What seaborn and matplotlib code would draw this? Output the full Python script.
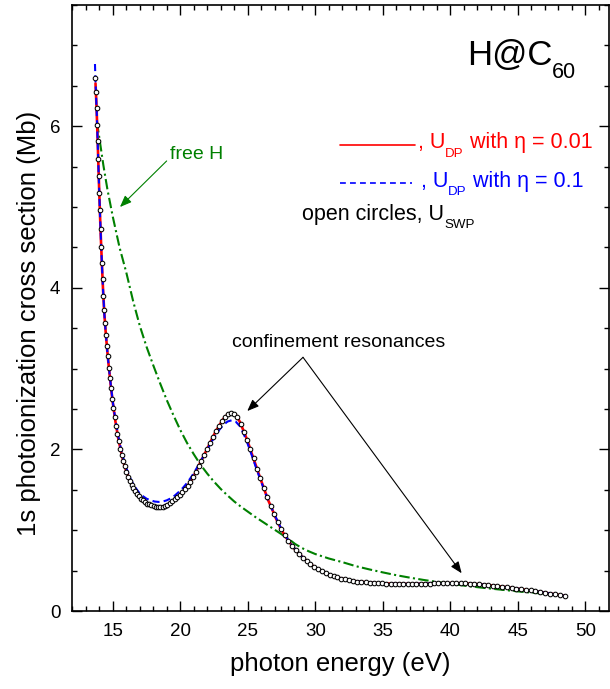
import numpy as np
import matplotlib
matplotlib.use("Agg")
import matplotlib.pyplot as plt
from matplotlib.ticker import MultipleLocator
from matplotlib.transforms import offset_copy
from matplotlib.lines import Line2D
import seaborn as sns

# %% data (energy in eV, cross section in Mb)

# open circles, U_SWP
energy_swp = [13.70, 13.75, 13.80, 13.84, 13.88, 13.92, 13.96, 14.00, 14.04, 14.09,
              14.14, 14.19, 14.24, 14.30, 14.36, 14.42, 14.49, 14.56, 14.63, 14.71,
              14.79, 14.87, 14.96, 15.05, 15.14, 15.24, 15.34, 15.44, 15.55, 15.66,
              15.77, 15.89, 16.01, 16.13, 16.26, 16.39, 16.52, 16.66, 16.80, 16.94,
              17.09, 17.24, 17.39, 17.54, 17.70, 17.86, 18.02, 18.18, 18.35, 18.52,
              18.69, 18.86, 19.04, 19.22, 19.40, 19.58, 19.77, 19.96, 20.15, 20.34,
              20.54, 20.74, 20.94, 21.14, 21.35, 21.56, 21.77, 21.98, 22.20, 22.42,
              22.64, 22.86, 23.08, 23.31, 23.54, 23.77, 24.00, 24.23, 24.47, 24.71,
              24.95, 25.19, 25.43, 25.68, 25.93, 26.18, 26.43, 26.69, 26.95, 27.21,
              27.47, 27.73, 28.00, 28.27, 28.54, 28.81, 29.08, 29.36, 29.64, 29.92,
              30.20, 30.48, 30.77, 31.06, 31.35, 31.64, 31.93, 32.22, 32.52, 32.82,
              33.12, 33.42, 33.72, 34.03, 34.34, 34.65, 34.96, 35.27, 35.58, 35.89,
              36.21, 36.53, 36.85, 37.17, 37.49, 37.81, 38.13, 38.46, 38.79, 39.12,
              39.45, 39.78, 40.11, 40.44, 40.77, 41.11, 41.45, 41.79, 42.13, 42.47,
              42.81, 43.15, 43.49, 43.84, 44.19, 44.54, 44.89, 45.24, 45.59, 45.94,
              46.30, 46.66, 47.02, 47.38, 47.74, 48.10, 48.50]
sigma_swp = [6.60, 6.42, 6.22, 6.02, 5.82, 5.60, 5.38, 5.17, 4.96, 4.73,
             4.51, 4.31, 4.11, 3.90, 3.72, 3.56, 3.42, 3.28, 3.15, 3.01,
             2.88, 2.76, 2.63, 2.51, 2.40, 2.29, 2.19, 2.10, 2.01, 1.93,
             1.86, 1.79, 1.72, 1.66, 1.61, 1.56, 1.52, 1.48, 1.45, 1.42,
             1.39, 1.37, 1.35, 1.33, 1.32, 1.31, 1.30, 1.29, 1.285, 1.285,
             1.29, 1.30, 1.315, 1.335, 1.36, 1.385, 1.41, 1.44, 1.47, 1.505,
             1.55, 1.60, 1.655, 1.72, 1.79, 1.86, 1.93, 2.00, 2.08, 2.155,
             2.23, 2.29, 2.35, 2.40, 2.435, 2.45, 2.44, 2.40, 2.32, 2.22,
             2.12, 2.01, 1.89, 1.76, 1.64, 1.525, 1.41, 1.30, 1.20, 1.10,
             1.01, 0.935, 0.87, 0.81, 0.755, 0.705, 0.66, 0.62, 0.58, 0.545,
             0.515, 0.49, 0.465, 0.445, 0.43, 0.415, 0.40, 0.39, 0.38, 0.372,
             0.365, 0.36, 0.355, 0.35, 0.347, 0.344, 0.342, 0.34, 0.338, 0.337,
             0.336, 0.335, 0.335, 0.335, 0.336, 0.337, 0.338, 0.34, 0.342, 0.343,
             0.344, 0.345, 0.345, 0.345, 0.344, 0.342, 0.339, 0.335, 0.331, 0.326,
             0.32, 0.314, 0.308, 0.301, 0.294, 0.286, 0.278, 0.27, 0.262, 0.254,
             0.245, 0.235, 0.226, 0.216, 0.207, 0.197, 0.186]

# U_DP curves (eta = 0.01 starts at the second energy)
energy_dp = [13.68, 13.72, 13.76, 13.80, 13.85, 13.90, 13.95, 14.00, 14.06, 14.12,
             14.20, 14.28, 14.37, 14.47, 14.58, 14.70, 14.85, 15.0, 15.2, 15.4,
             15.6, 15.8, 16.0, 16.3, 16.6, 16.9, 17.2, 17.5, 17.8, 18.1,
             18.4, 18.7, 19.0, 19.3, 19.6, 19.9, 20.2, 20.5, 20.8, 21.1,
             21.4, 21.7, 22.0, 22.3, 22.6, 22.9, 23.2, 23.5, 23.8, 24.1,
             24.4, 24.7, 25.0, 25.3, 25.6, 25.9, 26.2, 26.5, 26.8, 27.1,
             27.4, 27.7, 28.0, 28.5, 29.0, 29.5, 30.0, 31.0, 32.0, 33.0,
             34.0, 35.0, 36.0, 37.0, 38.0, 39.0, 40.0, 41.0, 42.0, 43.0,
             44.0, 45.0, 46.0, 47.0, 48.0, 48.5]
sigma_dp001 = [6.53, 6.38, 6.22, 5.97, 5.71, 5.43, 5.17, 4.87, 4.60,
               4.27, 3.97, 3.69, 3.46, 3.24, 3.03, 2.79, 2.58, 2.34, 2.14,
               1.98, 1.84, 1.73, 1.60, 1.50, 1.43, 1.375, 1.34, 1.315, 1.295,
               1.285, 1.29, 1.31, 1.345, 1.385, 1.43, 1.48, 1.54, 1.615, 1.705,
               1.81, 1.91, 2.01, 2.115, 2.215, 2.30, 2.38, 2.43, 2.45, 2.43,
               2.345, 2.225, 2.095, 1.945, 1.80, 1.655, 1.515, 1.375, 1.26, 1.14,
               1.035, 0.945, 0.87, 0.76, 0.675, 0.60, 0.535, 0.45, 0.398, 0.368,
               0.351, 0.342, 0.337, 0.335, 0.338, 0.343, 0.345, 0.343, 0.332, 0.317,
               0.298, 0.276, 0.252, 0.227, 0.20, 0.186]
sigma_dp01 = [6.77, 6.55, 6.38, 6.22, 5.97, 5.71, 5.43, 5.17, 4.87, 4.60,
              4.27, 3.97, 3.69, 3.46, 3.24, 3.03, 2.80, 2.59, 2.36, 2.17,
              2.01, 1.88, 1.77, 1.64, 1.545, 1.475, 1.425, 1.39, 1.37, 1.355,
              1.35, 1.355, 1.37, 1.395, 1.43, 1.475, 1.525, 1.585, 1.655, 1.735,
              1.82, 1.91, 2.00, 2.09, 2.17, 2.245, 2.305, 2.345, 2.36, 2.345,
              2.29, 2.19, 2.065, 1.925, 1.78, 1.64, 1.505, 1.375, 1.26, 1.15,
              1.045, 0.955, 0.875, 0.765, 0.675, 0.60, 0.535, 0.45, 0.398, 0.368,
              0.351, 0.342, 0.337, 0.335, 0.338, 0.343, 0.345, 0.343, 0.332, 0.317,
              0.298, 0.276, 0.252, 0.227, 0.20, 0.186]

# free H
energy_free = [13.83, 14.0, 14.3, 14.6, 15.0, 15.5, 16.0, 16.5, 17.0, 17.5,
               18.0, 18.5, 19.0, 19.5, 20.0, 20.5, 21.0, 21.5, 22.0, 22.5,
               23.0, 23.5, 24.0, 24.5, 25.0, 25.5, 26.0, 26.5, 27.0, 27.5,
               28.0, 28.5, 29.0, 29.5, 30.0, 31.0, 32.0, 33.0, 34.0, 35.0,
               36.0, 37.0, 38.0, 39.0, 40.0, 41.0, 42.0, 43.0, 44.0, 45.0,
               46.0, 47.0, 48.0]
sigma_free = [6.05, 5.86, 5.52, 5.22, 4.88, 4.50, 4.19, 3.84, 3.53, 3.27,
              3.04, 2.82, 2.61, 2.42, 2.24, 2.08, 1.94, 1.81, 1.70, 1.60,
              1.51, 1.43, 1.355, 1.29, 1.23, 1.17, 1.115, 1.06, 1.005, 0.95,
              0.895, 0.83, 0.78, 0.74, 0.705, 0.65, 0.605, 0.555, 0.515, 0.478,
              0.443, 0.413, 0.385, 0.36, 0.337, 0.315, 0.295, 0.277, 0.26, 0.243,
              0.228, 0.213, 0.199]

GREEN = "#008000"

# %% style
sns.set_theme(style="ticks")
plt.rcParams["font.family"] = ["Liberation Sans", "DejaVu Sans"]
plt.rcParams["text.color"] = "black"
plt.rcParams["axes.labelcolor"] = "black"

fig = plt.figure(figsize=(6.10, 6.89), dpi=100)
ax = fig.add_axes([0.1185, 0.1132, 0.8798, 0.8795])

# %% curves
sns.lineplot(x=energy_free, y=sigma_free, ax=ax, color=GREEN, lw=1.5,
             linestyle=(0, (5, 1.6, 1, 1.6)))
sns.lineplot(x=energy_dp[1:], y=sigma_dp001, ax=ax, color="red", lw=1.9)
sns.lineplot(x=energy_dp, y=sigma_dp01, ax=ax, color="blue", lw=1.5,
             linestyle=(0, (3.4, 2.0)))
sns.scatterplot(x=energy_swp, y=sigma_swp, ax=ax, marker="o", s=11,
                color="white", edgecolor="black", linewidth=0.75, zorder=5)

# %% axes
ax.set_xlim(12, 51.75)
ax.set_ylim(0, 7.5)
ax.xaxis.set_major_locator(MultipleLocator(5))
ax.xaxis.set_minor_locator(MultipleLocator(1))
ax.yaxis.set_major_locator(MultipleLocator(2))
ax.yaxis.set_minor_locator(MultipleLocator(0.5))
ax.tick_params(which="both", direction="in", top=True, right=True,
               width=1.0, colors="black", labelsize=13.5, pad=8.5)
ax.tick_params(which="major", length=7.5)
ax.tick_params(which="minor", length=3.4)
for sp in ax.spines.values():
    sp.set_linewidth(1.2)
    sp.set_color("black")

ax.set_xlabel("photon energy (eV)", fontsize=18.5, labelpad=9)
ax.set_ylabel("1s photoionization cross section (Mb)", fontsize=18.5)
ax.yaxis.set_label_coords(-0.058, 0.475)

# %% text with subscripts
renderer = fig.canvas.get_renderer()


def rich_text(x, y, pieces, size, color, trans):
    shift = 0.0
    for txt, is_sub in pieces:
        fs = size * 0.62 if is_sub else size
        dy = -0.38 * size if is_sub else 0.0
        tr = offset_copy(trans, fig=fig, x=shift, y=dy, units="points")
        t = ax.text(x, y, txt, transform=tr, fontsize=fs, color=color,
                    va="baseline", ha="left")
        shift += t.get_window_extent(renderer).width * 72 / fig.dpi


rich_text(0.7349, 0.901, [("H@C", False), ("60", True)], 25, "black", ax.transAxes)
rich_text(0.6441, 0.7635, [(", U", False), ("DP", True), (" with η = 0.01", False)],
          15.5, "red", ax.transAxes)
rich_text(0.6497, 0.7002, [(", U", False), ("DP", True), (" with η = 0.1", False)],
          15.5, "blue", ax.transAxes)
rich_text(0.428, 0.6452, [("open circles, U", False), ("SWP", True)],
          15.5, "black", ax.transAxes)

# legend keys
ax.add_line(Line2D([0.4988, 0.6385], [0.769, 0.769], transform=ax.transAxes,
                   color="red", lw=1.2))
ax.add_line(Line2D([0.4988, 0.633], [0.7068, 0.7068], transform=ax.transAxes,
                   color="blue", lw=1.2, linestyle=(0, (3.5, 2.5))))

# annotations
ax.text(19.24, 5.60, "free H", fontsize=14, color=GREEN, va="baseline")
ax.annotate("", xy=(15.53, 5.00), xytext=(18.99, 5.57),
            arrowprops=dict(arrowstyle="-|>,head_length=0.5,head_width=0.2",
                            color=GREEN, lw=0.8, mutation_scale=14,
                            shrinkA=0, shrinkB=0))

ax.text(23.83, 3.27, "confinement resonances", fontsize=14, color="black",
        va="baseline")
for tip in [(24.96, 2.475), (40.84, 0.467)]:
    ax.annotate("", xy=tip, xytext=(29.09, 3.14),
                arrowprops=dict(arrowstyle="-|>,head_length=0.5,head_width=0.2",
                                color="black", lw=0.8, mutation_scale=14,
                                shrinkA=0, shrinkB=0))

fig.savefig("out.png", dpi=100)
